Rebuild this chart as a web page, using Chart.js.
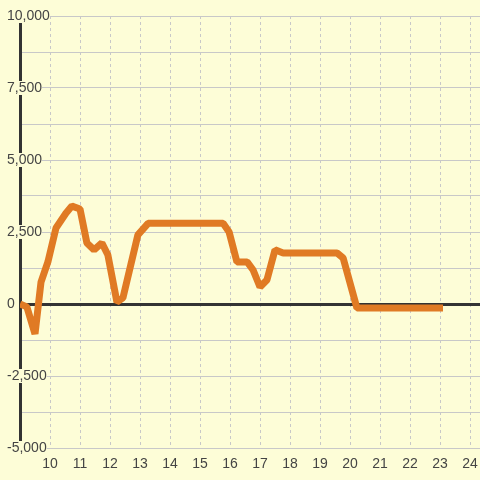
<!DOCTYPE html>
<html>
<head>
<meta charset="utf-8">
<script src="https://cdn.jsdelivr.net/npm/chart.js"></script>
<style>
  html, body { margin: 0; padding: 0; width: 480px; height: 480px; background: #fdfdd7; overflow: hidden; }
  #wrap { width: 480px; height: 480px; }
</style>
</head>
<body>
<div id="wrap"><canvas id="chart"></canvas></div>
<script>
const xValues = [9.0, 9.23, 9.5, 9.7, 9.93, 10.2, 10.53, 10.73, 11.0, 11.23, 11.47, 11.73, 11.93, 12.23, 12.43, 12.93, 13.27,
  15.77, 15.97, 16.23, 16.57, 16.77, 17.0, 17.23, 17.5, 17.77, 19.57, 19.77, 20.23, 23.1];
const yValues = [0, -100, -1040, 760, 1460, 2640, 3150, 3400, 3300, 2120, 1880, 2120, 1700, 70, 210, 2400, 2800,
  2800, 2500, 1460, 1460, 1180, 590, 830, 1880, 1770, 1770, 1600, -140, -140];
const xTicks = [10, 11, 12, 13, 14, 15, 16, 17, 18, 19, 20, 21, 22, 23, 24];

const font = { family: '"Liberation Sans", Arial, sans-serif', size: 14, lineHeight: 1 };
const bg = '#fdfdd7';

new Chart(document.getElementById('chart'), {
  type: 'line',
  data: {
    datasets: [{
      data: xValues.map((x, i) => ({ x: x, y: yValues[i] })),
      borderColor: '#e07a24',
      borderWidth: 7,
      pointRadius: 0,
      tension: 0,
      borderCapStyle: 'butt',
      borderJoinStyle: 'bevel'
    }]
  },
  options: {
    responsive: true,
    maintainAspectRatio: false,
    animation: false,
    layout: { padding: { top: 16, left: 0, right: 0, bottom: 0 } },
    plugins: { legend: { display: false }, tooltip: { enabled: false } },
    scales: {
      x: {
        type: 'linear',
        min: 9,
        max: 24.333,
        afterFit: (s) => { s.height = 32; s.paddingLeft = 0; s.paddingRight = 0; },
        afterBuildTicks: (s) => { s.ticks = xTicks.map(v => ({ value: v })); },
        border: { display: false, dash: [3, 3] },
        grid: { color: '#c8c8c8', lineWidth: 1, drawTicks: false },
        ticks: { padding: 8, color: '#444', font: { ...font, lineHeight: 1.2 } }
      },
      y: {
        min: -5000,
        max: 10000,
        afterFit: (s) => { s.width = 20; },
        border: { display: true, color: '#333', width: 3 },
        grid: {
          drawTicks: false,
          color: (c) => c.tick && c.tick.value === 0 ? '#333' : '#c8c8c8',
          lineWidth: (c) => c.tick && c.tick.value === 0 ? 3 : 1
        },
        ticks: {
          stepSize: 1250,
          mirror: true,
          padding: -13,
          z: 1,
          color: '#444',
          font: font,
          showLabelBackdrop: true,
          backdropColor: bg,
          backdropPadding: 0,
          callback: (v) => v % 2500 === 0 ? v.toLocaleString('en-US') : ''
        }
      }
    }
  }
});
</script>
</body>
</html>
